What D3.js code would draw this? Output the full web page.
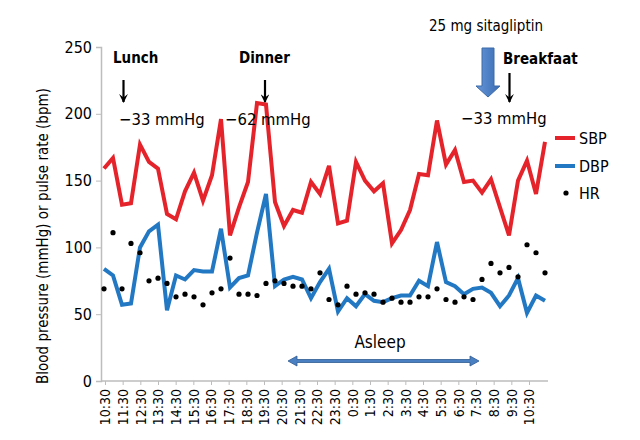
<!DOCTYPE html>
<html>
<head>
<meta charset="utf-8">
<script src="https://cdn.jsdelivr.net/npm/d3@7"></script>
<style>
  html, body { margin: 0; padding: 0; background: #fff; }
  svg { display: block; }
  text { font-family: "Liberation Sans Narrow", "DejaVu Sans Condensed", "Arial Narrow", sans-serif; fill: #000; }
</style>
</head>
<body>
<svg id="chart" width="640" height="440"></svg>
<script>
// ---- data ----
const timeLabels = ["10:30","11:30","12:30","13:30","14:30","15:30","16:30","17:30","18:30","19:30",
  "20:30","21:30","22:30","23:30","0:30","1:30","2:30","3:30","4:30","5:30","6:30","7:30","8:30","9:30","10:30"];
const yTicks = [0, 50, 100, 150, 200, 250];
const sbp = [159,167,132,133,177,164,159,125,121,142,156,135,154,196,109,130,149,208,207,134,
  116,128,126,149,140,161,118,120,164,150,142,148,103,113,128,155,154,195,162,173,
  149,150,141,151,130,109,150,165,140,179];
const dbp = [84,79,57,58,100,112,117,53,79,76,83,82,82,114,70,77,79,111,140,71,
  76,78,76,62,74,84,52,62,56,65,60,59,62,64,64,75,71,104,74,71,
  65,69,70,66,56,64,77,51,64,60];
const hr = [69,111,69,103,96,75,77,73,63,65,63,57,66,69,92,65,65,64,73,75,
  73,71,71,69,81,61,57,71,65,66,65,59,62,59,59,63,63,69,61,59,
  63,61,76,88,81,85,78,102,96,81];
const seriesNames = ["SBP", "DBP", "HR"];
const colors = { SBP: "#e5232b", DBP: "#2378c3", HR: "#000" };

// ---- layout ----
const svg = d3.select("#chart");
const plot = { left: 101, right: 548, top: 47, bottom: 381 };

const y = d3.scaleLinear().domain([0, 250]).range([plot.bottom, plot.top]);
const xData = d3.scaleLinear().domain([0, sbp.length - 1]).range([104, 545]);
const xLab = d3.scalePoint().domain(d3.range(timeLabels.length)).range([105, 529]);

// axes
const yAxis = d3.axisLeft(y).tickValues(yTicks).tickSize(5).tickPadding(4);
const gy = svg.append("g").attr("transform", `translate(${plot.left},0)`).call(yAxis);
gy.select(".domain").attr("stroke", "#bdbdbd").attr("stroke-width", 1.5);
gy.selectAll(".tick line").attr("stroke", "#bdbdbd");
gy.selectAll(".tick text").style("font-size", "16px").attr("font-family", null);

const xAxis = d3.axisBottom(xLab).tickSize(4).tickFormat(i => timeLabels[i]).tickPadding(4);
const gx = svg.append("g").attr("transform", `translate(0,${plot.bottom})`).call(xAxis);
gx.select(".domain").attr("d", `M${plot.left},0H${plot.right}`).attr("stroke", "#bdbdbd").attr("stroke-width", 1.5);
gx.selectAll(".tick line").attr("stroke", "#bdbdbd");
gx.selectAll(".tick text")
  .attr("font-family", null)
  .style("font-size", "14px")
  .attr("text-anchor", "end")
  .attr("transform", "rotate(-90)")
  .attr("x", -8).attr("y", 0).attr("dy", "0.35em");

// y title
svg.append("text")
  .attr("transform", `translate(48,${(plot.top + plot.bottom) / 2 + 22}) rotate(-90)`)
  .attr("text-anchor", "middle")
  .style("font-size", "15px")
  .text("Blood pressure (mmHg) or pulse rate (bpm)");

// lines
const line = d3.line().x((d, i) => xData(i)).y(d => y(d)).curve(d3.curveLinear);
svg.append("path").datum(sbp).attr("d", line)
  .attr("fill", "none").attr("stroke", colors.SBP).attr("stroke-width", 4).attr("stroke-linejoin", "miter");
svg.append("path").datum(dbp).attr("d", line)
  .attr("fill", "none").attr("stroke", colors.DBP).attr("stroke-width", 4).attr("stroke-linejoin", "miter");
svg.append("g").selectAll("circle").data(hr).join("circle")
  .attr("cx", (d, i) => xData(i)).attr("cy", d => y(d)).attr("r", 2.6).attr("fill", colors.HR);

// legend
const leg = svg.append("g");
[["SBP", 138], ["DBP", 166], ["HR", 193]].forEach(([name, ly]) => {
  if (name === "HR") {
    leg.append("circle").attr("cx", 566).attr("cy", ly).attr("r", 2.6).attr("fill", colors.HR);
  } else {
    leg.append("line").attr("x1", 555).attr("x2", 575).attr("y1", ly).attr("y2", ly)
      .attr("stroke", colors[name]).attr("stroke-width", 4);
  }
  leg.append("text").attr("x", 579).attr("y", ly).attr("dy", "0.35em")
    .style("font-size", "16px").text(name);
});

// annotations
const defs = svg.append("defs");
defs.append("marker").attr("id", "ah").attr("viewBox", "0 0 10 10").attr("refX", 9).attr("refY", 5)
  .attr("markerWidth", 4).attr("markerHeight", 4).attr("orient", "auto")
  .append("path").attr("d", "M0,0L10,5L0,10L4,5Z").attr("fill", "#000");

function downArrow(x, y1, y2) {
  svg.append("line").attr("x1", x).attr("x2", x).attr("y1", y1).attr("y2", y2)
    .attr("stroke", "#000").attr("stroke-width", 2.2).attr("marker-end", "url(#ah)");
}
function label(x, yy, txt, bold, anchor, size) {
  svg.append("text").attr("x", x).attr("y", yy).attr("text-anchor", anchor || "start")
    .style("font-size", (size || 15) + "px").style("font-weight", bold ? "bold" : "normal").text(txt);
}

label(113, 63, "Lunch", true);
downArrow(123.5, 80, 102);
label(119, 125, "\u221233 mmHg", false, "start", 16.5);

label(239, 63, "Dinner", true);
downArrow(265, 80, 102);
label(225, 125, "\u221262 mmHg", false, "start", 16.5);

label(429, 31, "25 mg sitagliptin");
label(503, 64, "Breakfaat", true);
downArrow(509.5, 73, 102);
label(461, 124, "\u221233 mmHg", false, "start", 16.5);

// blue block arrow (sitagliptin)
const gradB = defs.append("linearGradient").attr("id", "gb").attr("x1", 0).attr("x2", 1);
gradB.append("stop").attr("offset", "0").attr("stop-color", "#6a97d6");
gradB.append("stop").attr("offset", "0.5").attr("stop-color", "#4f81c7");
gradB.append("stop").attr("offset", "1").attr("stop-color", "#3b6db3");
svg.append("path")
  .attr("d", "M482,48 L494,48 L494,86 L500,86 L488,97 L476,86 L482,86 Z")
  .attr("fill", "url(#gb)").attr("stroke", "#3c6aa8").attr("stroke-width", 1);

// asleep double arrow
label(380, 348, "Asleep", false, "middle", 17);
const ay = 361;
svg.append("path")
  .attr("d", `M288,${ay} L297,${ay - 5} L297,${ay - 1.5} L470,${ay - 1.5} L470,${ay - 5} L479,${ay} L470,${ay + 5} L470,${ay + 1.5} L297,${ay + 1.5} L297,${ay + 5} Z`)
  .attr("fill", "#4a7fc1").attr("stroke", "#2f5a92").attr("stroke-width", 0.8);
</script>
</body>
</html>
